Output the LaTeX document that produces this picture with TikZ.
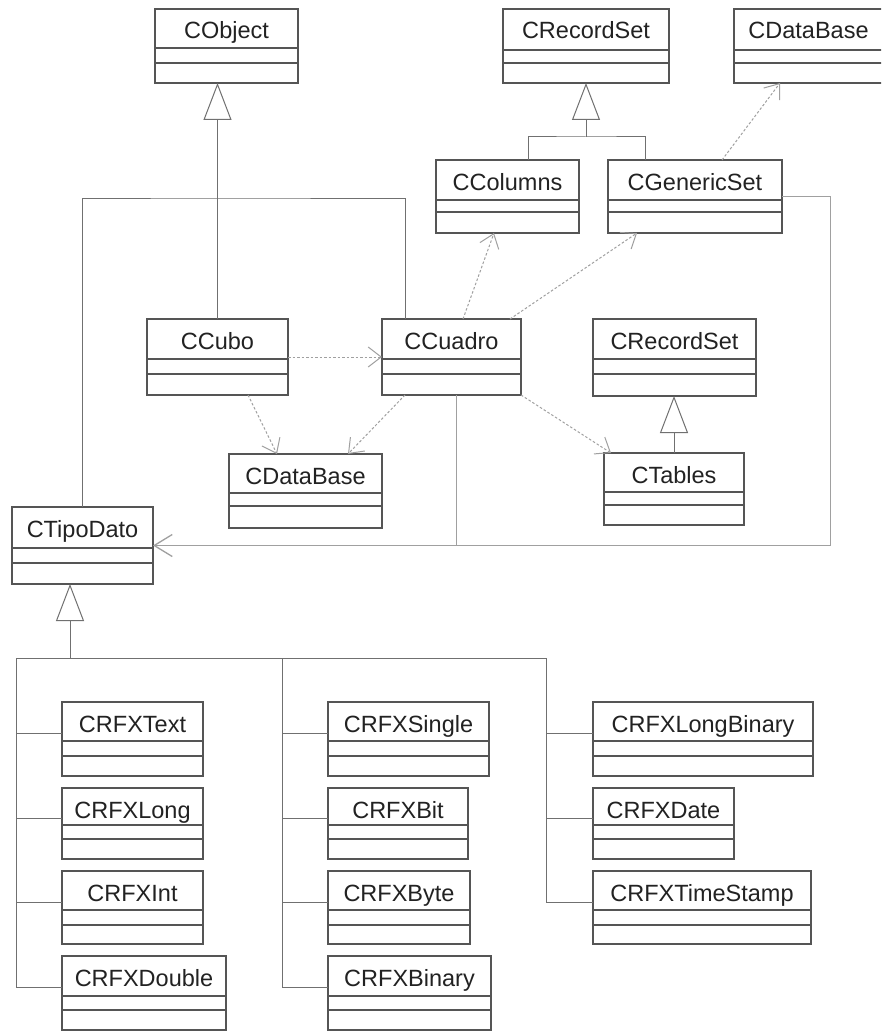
\documentclass[tikz,border=0pt]{standalone}
\usepackage{fontspec}
\setmainfont{Liberation Sans}
\usetikzlibrary{arrows.meta,calc}

\definecolor{ink}{HTML}{222222}
\definecolor{edge}{HTML}{555555}
\definecolor{wire}{HTML}{707070}
\definecolor{faint}{HTML}{A0A0A0}

\tikzset{
  x=1pt, y=-1pt,
  classframe/.style={draw=edge, line width=1.2pt, inner sep=0pt, outer sep=0pt, fill=white},
  compline/.style={draw=edge, line width=1.2pt},
  classname/.style={text=ink, font=\fontsize{23.5}{26}\selectfont, inner sep=0pt, anchor=base},
  gen/.style={draw=wire, line width=1pt, -{Triangle[open, length=37pt, width=28pt, line width=1pt]}},
  genbus/.style={draw=wire, line width=1pt},
  dep/.style={draw=faint, line width=1pt, dash pattern=on 2.5pt off 2pt,
    -{Straight Barb[length=13pt, width=20pt, line width=1pt]}},
  assoc/.style={draw=faint, line width=1pt},
  assocend/.style={-{Straight Barb[length=18pt, width=22pt, line width=1.3pt]}},
}

% class box: name, left, top, right, bottom, first rule, second rule, title
\newcommand\umlclass[8]{%
  \node[classframe, anchor=north west,
        minimum width={(#4-#2)*1pt}, minimum height={(#5-#3)*1pt}] (#1) at (#2,#3) {};
  \draw[compline] (#2,#6) -- (#4,#6) (#2,#7) -- (#4,#7);
  \node[classname] (#1-t) at ({(#2+#4)/2},{#3+30}) {#8};
}

\begin{document}
\begin{tikzpicture}
\useasboundingbox (0,0) rectangle (881,1035);
\clip (0,0) rectangle (881,1035);
\fill[white] (0,0) rectangle (881,1035);

% ---- classes ----
\umlclass{cobject}{155}{9}{298}{83}{48}{63}{CObject}
\umlclass{crecordset}{503}{9}{669}{83}{50}{63}{CRecordSet}
\umlclass{cdbtop}{734}{9}{883}{83}{50}{63}{CDataBase}
\umlclass{ccolumns}{436}{160}{579}{233}{200}{212}{CColumns}
\umlclass{cgeneric}{608}{160}{782}{233}{200}{212}{CGenericSet}
\umlclass{ccubo}{147}{319}{288}{395}{359}{374}{CCubo}
\umlclass{ccuadro}{382}{319}{521}{395}{359}{374}{CCuadro}
\umlclass{crec2}{593}{319}{756}{396}{359}{374}{CRecordSet}
\umlclass{cdbmid}{229}{454}{382}{528}{493}{506}{CDataBase}
\umlclass{ctables}{604}{453}{744}{525}{492}{505}{CTables}
\umlclass{ctipo}{12}{507}{153}{584}{548}{563}{CTipoDato}

\umlclass{crfxtext}{62}{702}{203}{776}{741}{756}{CRFXText}
\umlclass{crfxlong}{62}{788}{203}{859}{825}{839}{CRFXLong}
\umlclass{crfxint}{62}{871}{203}{944}{910}{925}{CRFXInt}
\umlclass{crfxdouble}{62}{956}{226}{1030}{996}{1010}{CRFXDouble}

\umlclass{crfxsingle}{328}{702}{489}{776}{741}{756}{CRFXSingle}
\umlclass{crfxbit}{328}{788}{468}{859}{825}{839}{CRFXBit}
\umlclass{crfxbyte}{328}{871}{470}{944}{910}{925}{CRFXByte}
\umlclass{crfxbinary}{328}{956}{491}{1030}{996}{1010}{CRFXBinary}

\umlclass{crfxlongbin}{593}{702}{813}{776}{741}{756}{CRFXLongBinary}
\umlclass{crfxdate}{593}{788}{734}{859}{825}{839}{CRFXDate}
\umlclass{crfxtime}{593}{871}{811}{944}{910}{925}{CRFXTimeStamp}

% ---- generalisation: CObject ----
\coordinate (objbus) at (217.5,198);
\draw[gen] (ccubo.north) -- (ccubo.north |- cobject.south);
\draw[genbus] (ctipo.north) |- (objbus) -| ([xshift=23pt]ccuadro.north west);

% ---- generalisation: CRecordSet ----
\coordinate (rsbus) at ([yshift=-54pt]crecordset.south);
\draw[gen] (rsbus) -- (crecordset.south);
\draw[genbus] ([xshift=92pt]ccolumns.north west) |- (rsbus) -| ([xshift=37pt]cgeneric.north west);

\draw[gen] (ctables.north) -- (ctables.north |- crec2.south);

% ---- generalisation: CTipoDato ----
\coordinate (tdbus) at (70,658);
\coordinate (colA) at (16,658);
\coordinate (colB) at (282,658);
\coordinate (colC) at (546,658);
\draw[gen] (tdbus) -- (tdbus |- ctipo.south);
\draw[genbus] (colA) -- (colC);
\foreach \c in {crfxtext,crfxlong,crfxint,crfxdouble}
  \draw[genbus] ([yshift=5.5pt]\c.west) -| (colA);
\foreach \c in {crfxsingle,crfxbit,crfxbyte,crfxbinary}
  \draw[genbus] ([yshift=5.5pt]\c.west) -| (colB);
\foreach \c in {crfxlongbin,crfxdate,crfxtime}
  \draw[genbus] ([yshift=5.5pt]\c.west) -| (colC);

% ---- dependencies ----
\draw[dep] (ccubo.east) -- (ccuadro.west);
\draw[dep] ([xshift=101pt]ccubo.south west) -- ([xshift=48pt]cdbmid.north west);
\draw[dep] ([xshift=23pt]ccuadro.south west) -- ([xshift=119pt]cdbmid.north west);
\draw[dep] (ccuadro.south east) -- ([xshift=7pt]ctables.north west);
\draw[dep] ([xshift=81pt]ccuadro.north west) -- ([xshift=58pt]ccolumns.south west);
\draw[dep] ([xshift=128pt]ccuadro.north west) -- ([xshift=29pt]cgeneric.south west);
\draw[dep] ([xshift=114pt]cgeneric.north west) -- ([xshift=46pt]cdbtop.south west);

% ---- associations towards CTipoDato ----
\coordinate (abus) at (830,545.5);
\draw[assoc] (cgeneric.east) -| (abus);
\draw[assoc] ([xshift=74pt]ccuadro.south west) -- ([xshift=74pt]ccuadro.south west |- abus);
\draw[assoc, assocend] (abus) -- (ctipo.east);
\end{tikzpicture}
\end{document}
